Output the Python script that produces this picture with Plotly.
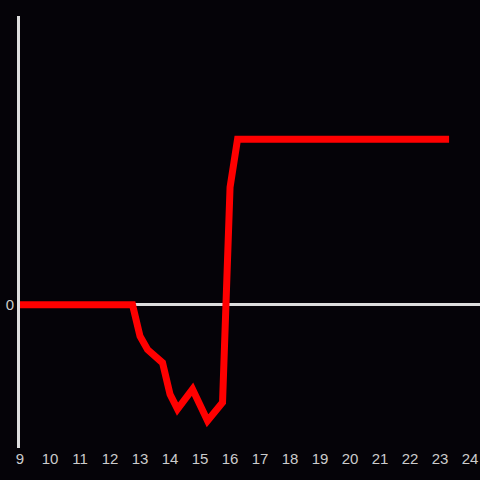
import plotly.graph_objects as go

hours = [9, 12.75, 13, 13.25, 13.75, 14, 14.25, 14.75, 15.25, 15.75, 16, 16.25, 17, 18, 19, 20, 21, 22, 23, 23.3]
values = [0, 0, -19, -27, -35, -54, -63, -51, -70, -59, 71, 100, 100, 100, 100, 100, 100, 100, 100, 100]
x_ticks = list(range(9, 25))

fig = go.Figure()
fig.add_trace(go.Scatter(x=hours, y=values, mode="lines",
                         line=dict(color="#ff0000", width=7), hoverinfo="skip"))

fig.update_layout(
    width=480, height=480,
    margin=dict(l=20, r=0, t=16, b=32),
    paper_bgcolor="#050308", plot_bgcolor="#050308",
    showlegend=False,
    font=dict(family="Liberation Sans", size=15, color="#cccccc"),
    xaxis=dict(range=[9, 24.33], tickvals=x_ticks, showgrid=False, zeroline=False,
               showline=False, ticks="", tickfont=dict(size=15, color="#cccccc")),
    yaxis=dict(range=[-86.5, 174.5], tickvals=[0], showgrid=False,
               zeroline=True, zerolinecolor="#dddddd", zerolinewidth=3,
               showline=True, linecolor="#dddddd", linewidth=3, ticks="",
               tickfont=dict(size=15, color="#cccccc")),
)
fig.write_html("out.html", config={"displayModeBar": False},
               post_script="document.body.style.margin='0';document.body.style.background='#050308';")
